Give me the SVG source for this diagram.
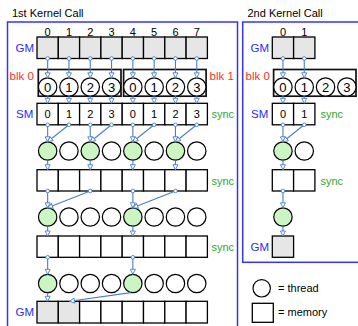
<svg xmlns="http://www.w3.org/2000/svg" width="358" height="326" viewBox="0 0 358 326">
<style>
text{font-family:"Liberation Sans",Arial,sans-serif;font-size:11px;fill:#000}
.frame{fill:none;stroke:#3333ff;stroke-width:1.5}
.m{fill:#fff;stroke:#000;stroke-width:1.3}
.g{fill:#e6e6e6;stroke:#000;stroke-width:1.3}
.t{fill:#fff;stroke:#000;stroke-width:1.2}
.tg{fill:#ccf5c4;stroke:#000;stroke-width:1.2}
.blk{fill:none;stroke:#111;stroke-width:1.7}
.lbl{fill:#2b2bff;font-size:11.5px}
.red{fill:#ff2b2b;font-size:11.5px}
.syn{fill:#2ea82e}
.num{text-anchor:middle}
.cn{text-anchor:middle;font-size:13px}
.c{stroke:#4a7ec8;stroke-width:1.1;fill:none;marker-end:url(#arr)}
.d{marker-start:url(#dot)}
</style>
<defs>
<marker id="arr" markerUnits="userSpaceOnUse" markerWidth="8" markerHeight="8" refX="5" refY="2.5" orient="auto" overflow="visible">
<path d="M0,0 L5,2.5 L0,5 z" fill="#fff" stroke="#4a7ec8" stroke-width="0.9"/>
</marker>
<marker id="dot" markerUnits="userSpaceOnUse" markerWidth="6" markerHeight="6" refX="3" refY="3" overflow="visible">
<circle cx="3" cy="3" r="1.8" fill="#fff" stroke="#4a7ec8" stroke-width="0.9"/>
</marker>
</defs>

<g id="frame1"><rect class="frame" x="7.5" y="22" width="230" height="320"/><text x="12" y="16.5">1st Kernel Call</text></g>
<g id="frame2"><rect class="frame" x="242.7" y="22" width="130" height="240.3"/><text x="247.5" y="16.5">2nd Kernel Call</text></g>

<g id="labels">
<text class="num" x="47.65" y="35.5">0</text><text class="num" x="68.95" y="35.5">1</text><text class="num" x="90.25" y="35.5">2</text><text class="num" x="111.55" y="35.5">3</text><text class="num" x="132.85" y="35.5">4</text><text class="num" x="154.15" y="35.5">5</text><text class="num" x="175.45" y="35.5">6</text><text class="num" x="196.75" y="35.5">7</text>
<text class="num" x="282.95" y="35.5">0</text><text class="num" x="304.25" y="35.5">1</text>
<text class="lbl" x="15.5" y="52">GM</text>
<text class="red" x="9.5" y="80">blk 0</text>
<text class="red" x="209.5" y="80">blk 1</text>
<text class="lbl" x="16" y="118">SM</text>
<text class="syn" x="211.5" y="118">sync</text>
<text class="syn" x="211.5" y="184.5">sync</text>
<text class="syn" x="211.5" y="250.5">sync</text>
<text class="lbl" x="15.5" y="316">GM</text>
<text class="lbl" x="250.5" y="52">GM</text>
<text class="red" x="245.5" y="80">blk 0</text>
<text class="lbl" x="251" y="118">SM</text>
<text class="syn" x="320.5" y="118">sync</text>
<text class="syn" x="320.5" y="184.5">sync</text>
<text class="lbl" x="250.5" y="250.5">GM</text>
</g>

<g id="gm1">
<rect class="g" x="37" y="37" width="21.3" height="21.5"/><rect class="g" x="58.3" y="37" width="21.3" height="21.5"/><rect class="g" x="79.6" y="37" width="21.3" height="21.5"/><rect class="g" x="100.9" y="37" width="21.3" height="21.5"/><rect class="g" x="122.2" y="37" width="21.3" height="21.5"/><rect class="g" x="143.5" y="37" width="21.3" height="21.5"/><rect class="g" x="164.8" y="37" width="21.3" height="21.5"/><rect class="g" x="186.1" y="37" width="21.3" height="21.5"/>
</g>

<g id="blk0"><rect class="blk" x="38.3" y="69.5" width="82.7" height="26.7"/>
<circle class="t" cx="47.65" cy="87" r="9.2"/><circle class="t" cx="68.95" cy="87" r="9.2"/><circle class="t" cx="90.25" cy="87" r="9.2"/><circle class="t" cx="111.55" cy="87" r="9.2"/>
<text class="cn" x="47.65" y="91.6">0</text><text class="cn" x="68.95" y="91.6">1</text><text class="cn" x="90.25" y="91.6">2</text><text class="cn" x="111.55" y="91.6">3</text>
</g>
<g id="blk1"><rect class="blk" x="123.6" y="69.5" width="82.5" height="26.7"/>
<circle class="t" cx="132.85" cy="87" r="9.2"/><circle class="t" cx="154.15" cy="87" r="9.2"/><circle class="t" cx="175.45" cy="87" r="9.2"/><circle class="t" cx="196.75" cy="87" r="9.2"/>
<text class="cn" x="132.85" y="91.6">0</text><text class="cn" x="154.15" y="91.6">1</text><text class="cn" x="175.45" y="91.6">2</text><text class="cn" x="196.75" y="91.6">3</text>
</g>

<g id="sm1">
<rect class="m" x="37" y="103.3" width="21.3" height="21.5"/><rect class="m" x="58.3" y="103.3" width="21.3" height="21.5"/><rect class="m" x="79.6" y="103.3" width="21.3" height="21.5"/><rect class="m" x="100.9" y="103.3" width="21.3" height="21.5"/><rect class="m" x="122.2" y="103.3" width="21.3" height="21.5"/><rect class="m" x="143.5" y="103.3" width="21.3" height="21.5"/><rect class="m" x="164.8" y="103.3" width="21.3" height="21.5"/><rect class="m" x="186.1" y="103.3" width="21.3" height="21.5"/>
<text class="num" x="47.65" y="118">0</text><text class="num" x="68.95" y="118">1</text><text class="num" x="90.25" y="118">2</text><text class="num" x="111.55" y="118">3</text><text class="num" x="132.85" y="118">0</text><text class="num" x="154.15" y="118">1</text><text class="num" x="175.45" y="118">2</text><text class="num" x="196.75" y="118">3</text>
</g>

<g id="threads1">
<circle class="tg" cx="47.65" cy="151" r="9.2"/><circle class="t" cx="68.95" cy="151" r="9.2"/><circle class="tg" cx="90.25" cy="151" r="9.2"/><circle class="t" cx="111.55" cy="151" r="9.2"/><circle class="tg" cx="132.85" cy="151" r="9.2"/><circle class="t" cx="154.15" cy="151" r="9.2"/><circle class="tg" cx="175.45" cy="151" r="9.2"/><circle class="t" cx="196.75" cy="151" r="9.2"/>
</g>

<g id="mem2">
<rect class="m" x="37" y="169.7" width="21.3" height="21.3"/><rect class="m" x="58.3" y="169.7" width="21.3" height="21.3"/><rect class="m" x="79.6" y="169.7" width="21.3" height="21.3"/><rect class="m" x="100.9" y="169.7" width="21.3" height="21.3"/><rect class="m" x="122.2" y="169.7" width="21.3" height="21.3"/><rect class="m" x="143.5" y="169.7" width="21.3" height="21.3"/><rect class="m" x="164.8" y="169.7" width="21.3" height="21.3"/><rect class="m" x="186.1" y="169.7" width="21.3" height="21.3"/>
</g>

<g id="threads2">
<circle class="tg" cx="47.65" cy="217" r="9.2"/><circle class="t" cx="68.95" cy="217" r="9.2"/><circle class="t" cx="90.25" cy="217" r="9.2"/><circle class="t" cx="111.55" cy="217" r="9.2"/><circle class="tg" cx="132.85" cy="217" r="9.2"/><circle class="t" cx="154.15" cy="217" r="9.2"/><circle class="t" cx="175.45" cy="217" r="9.2"/><circle class="t" cx="196.75" cy="217" r="9.2"/>
</g>

<g id="mem3">
<rect class="m" x="37" y="236" width="21.3" height="21.3"/><rect class="m" x="58.3" y="236" width="21.3" height="21.3"/><rect class="m" x="79.6" y="236" width="21.3" height="21.3"/><rect class="m" x="100.9" y="236" width="21.3" height="21.3"/><rect class="m" x="122.2" y="236" width="21.3" height="21.3"/><rect class="m" x="143.5" y="236" width="21.3" height="21.3"/><rect class="m" x="164.8" y="236" width="21.3" height="21.3"/><rect class="m" x="186.1" y="236" width="21.3" height="21.3"/>
</g>

<g id="threads3">
<circle class="tg" cx="47.65" cy="283.5" r="9.2"/><circle class="t" cx="68.95" cy="283.5" r="9.2"/><circle class="t" cx="90.25" cy="283.5" r="9.2"/><circle class="t" cx="111.55" cy="283.5" r="9.2"/><circle class="tg" cx="132.85" cy="283.5" r="9.2"/><circle class="t" cx="154.15" cy="283.5" r="9.2"/><circle class="t" cx="175.45" cy="283.5" r="9.2"/><circle class="t" cx="196.75" cy="283.5" r="9.2"/>
</g>

<g id="gm1out">
<rect class="g" x="37" y="301.3" width="21.3" height="21.7"/><rect class="g" x="58.3" y="301.3" width="21.3" height="21.7"/><rect class="m" x="79.6" y="301.3" width="21.3" height="21.7"/><rect class="m" x="100.9" y="301.3" width="21.3" height="21.7"/><rect class="m" x="122.2" y="301.3" width="21.3" height="21.7"/><rect class="m" x="143.5" y="301.3" width="21.3" height="21.7"/><rect class="m" x="164.8" y="301.3" width="21.3" height="21.7"/><rect class="m" x="186.1" y="301.3" width="21.3" height="21.7"/>
</g>

<g id="gm2"><rect class="g" x="272.3" y="37" width="21.3" height="21.5"/><rect class="g" x="293.6" y="37" width="21.3" height="21.5"/></g>
<g id="blk0b"><rect class="blk" x="273.6" y="69.5" width="82.4" height="26.7"/>
<circle class="t" cx="282.95" cy="87" r="9.2"/><circle class="t" cx="304.25" cy="87" r="9.2"/><circle class="t" cx="325.55" cy="87" r="9.2"/><circle class="t" cx="346.85" cy="87" r="9.2"/>
<text class="cn" x="282.95" y="91.6">0</text><text class="cn" x="304.25" y="91.6">1</text><text class="cn" x="325.55" y="91.6">2</text><text class="cn" x="346.85" y="91.6">3</text>
</g>
<g id="sm2"><rect class="m" x="272.3" y="103.3" width="21.3" height="21.5"/><rect class="m" x="293.6" y="103.3" width="21.3" height="21.5"/>
<text class="num" x="282.95" y="118">0</text><text class="num" x="304.25" y="118">1</text></g>
<g id="threads2a"><circle class="tg" cx="282.95" cy="151" r="9.2"/><circle class="t" cx="304.25" cy="151" r="9.2"/></g>
<g id="mem2b"><rect class="m" x="272.3" y="169.7" width="21.3" height="21.3"/><rect class="m" x="293.6" y="169.7" width="21.3" height="21.3"/></g>
<g id="threads2b"><circle class="tg" cx="282.95" cy="217" r="9.2"/></g>
<g id="gm2out"><rect class="g" x="272.3" y="236" width="21.3" height="21.3"/></g>

<g id="legend">
<circle class="t" cx="261.7" cy="288.3" r="8.7"/><text x="278" y="292">= thread</text>
<rect class="m" x="252.3" y="303.3" width="21" height="19"/><text x="278" y="316">= memory</text>
</g>

<g id="connectors">
<path class="c d" d="M47.65,58.5V77.8"/><path class="c d" d="M68.95,58.5V77.8"/><path class="c d" d="M90.25,58.5V77.8"/><path class="c d" d="M111.55,58.5V77.8"/><path class="c d" d="M132.85,58.5V77.8"/><path class="c d" d="M154.15,58.5V77.8"/><path class="c d" d="M175.45,58.5V77.8"/><path class="c d" d="M196.75,58.5V77.8"/>
<path class="c" d="M47.65,96.2V103.3"/><path class="c" d="M68.95,96.2V103.3"/><path class="c" d="M90.25,96.2V103.3"/><path class="c" d="M111.55,96.2V103.3"/><path class="c" d="M132.85,96.2V103.3"/><path class="c" d="M154.15,96.2V103.3"/><path class="c" d="M175.45,96.2V103.3"/><path class="c" d="M196.75,96.2V103.3"/>
<path class="c d" d="M47.65,124.8V141.8"/><path class="c d" d="M68.95,124.8L47.65,141.8"/><path class="c d" d="M90.25,124.8V141.8"/><path class="c d" d="M111.55,124.8L90.25,141.8"/><path class="c d" d="M132.85,124.8V141.8"/><path class="c d" d="M154.15,124.8L132.85,141.8"/><path class="c d" d="M175.45,124.8V141.8"/><path class="c d" d="M196.75,124.8L175.45,141.8"/>
<path class="c" d="M47.65,160.2V169.7"/><path class="c" d="M90.25,160.2V169.7"/><path class="c" d="M132.85,160.2V169.7"/><path class="c" d="M175.45,160.2V169.7"/>
<path class="c d" d="M47.65,191V207.8"/><path class="c d" d="M90.25,191L47.65,207.8"/><path class="c d" d="M132.85,191V207.8"/><path class="c d" d="M175.45,191L132.85,207.8"/>
<path class="c" d="M47.65,226.2V236"/><path class="c" d="M132.85,226.2V236"/>
<path class="c d" d="M47.65,257.3V274.3"/><path class="c d" d="M132.85,257.3V274.3"/>
<path class="c" d="M47.65,292.7V301.3"/><path class="c" d="M131,292.6L69.5,301.3"/>
<path class="c d" d="M282.95,58.5V77.8"/><path class="c d" d="M304.25,58.5V77.8"/>
<path class="c" d="M282.95,96.2V103.3"/><path class="c" d="M304.25,96.2V103.3"/>
<path class="c d" d="M282.95,124.8V141.8"/><path class="c d" d="M304.25,124.8L282.95,141.8"/>
<path class="c" d="M282.95,160.2V169.7"/>
<path class="c d" d="M282.95,191V207.8"/>
<path class="c" d="M282.95,226.2V236"/>
</g>
</svg>
